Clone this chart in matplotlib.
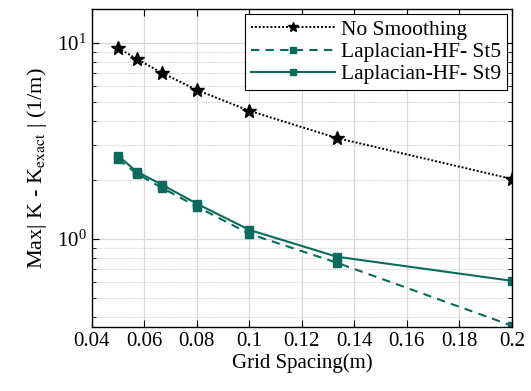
import numpy as np
import matplotlib
matplotlib.use("Agg")
import matplotlib.pyplot as plt
from matplotlib.ticker import LogLocator, NullFormatter

plt.rcParams["font.family"] = ["Liberation Serif", "DejaVu Serif"]
plt.rcParams["mathtext.fontset"] = "stix"

# grid spacing (m)
spacing = [0.05, 0.0571, 0.0667, 0.08, 0.1, 0.1333, 0.2]
no_smoothing = [9.43, 8.28, 7.03, 5.75, 4.50, 3.27, 2.02]
lap_st5 = [2.55, 2.15, 1.82, 1.46, 1.06, 0.755, 0.36]
lap_st9 = [2.65, 2.20, 1.89, 1.51, 1.11, 0.81, 0.61]

teal = "#0b6b5a"

fig = plt.figure(figsize=(5.31, 3.91), dpi=100)
ax = fig.add_axes([0.173, 0.164, 0.791, 0.813])

ax.plot(spacing, no_smoothing, color="black", linestyle=(0, (1, 1)), linewidth=1.4,
        marker="*", markersize=10, label="No Smoothing")
ax.plot(spacing, lap_st5, color=teal, linestyle=(0, (4, 3)), linewidth=1.5,
        marker="s", markersize=5.5, label="Laplacian-HF- St5")
ax.plot(spacing, lap_st9, color=teal, linestyle="-", linewidth=1.5,
        marker="s", markersize=5.5, label="Laplacian-HF- St9")

ax.set_yscale("log")
ax.set_xlim(0.04, 0.2)
ax.set_ylim(0.355, 14.9)
ax.set_xticks(np.arange(0.04, 0.201, 0.02))
ax.set_xticklabels(["0.04", "0.06", "0.08", "0.1", "0.12", "0.14", "0.16", "0.18", "0.2"])
ax.yaxis.set_major_locator(LogLocator(base=10, numticks=5))
ax.yaxis.set_minor_locator(LogLocator(base=10, subs=np.arange(2, 10), numticks=12))
ax.yaxis.set_minor_formatter(NullFormatter())

ax.grid(True, which="major", color="#d8d8d8", linewidth=0.9, linestyle="-")
ax.grid(True, which="minor", axis="y", color="#cfcfcf", linewidth=0.8, linestyle=(0, (1, 1)))
ax.set_axisbelow(True)

ax.tick_params(which="both", direction="in", top=True, right=True, labelsize=15)
ax.tick_params(which="major", length=5)
ax.tick_params(which="minor", length=3)
for s in ax.spines.values():
    s.set_linewidth(1.0)

ax.set_xlabel("Grid Spacing(m)", fontsize=15, labelpad=2)
ax.set_ylabel(r"Max| K - K$_{\rm exact}$ | (1/m)", fontsize=16, labelpad=6)

leg = ax.legend(loc="upper right", fontsize=15.5, fancybox=False, framealpha=1,
                edgecolor="black", borderpad=0.25, labelspacing=0.1,
                handlelength=3.9, handletextpad=0.3, borderaxespad=0.25)
leg.get_frame().set_linewidth(0.8)
for h in leg.legend_handles:
    h.set_markersize(h.get_markersize() * 0.7)

fig.savefig("out.png", dpi=100)
